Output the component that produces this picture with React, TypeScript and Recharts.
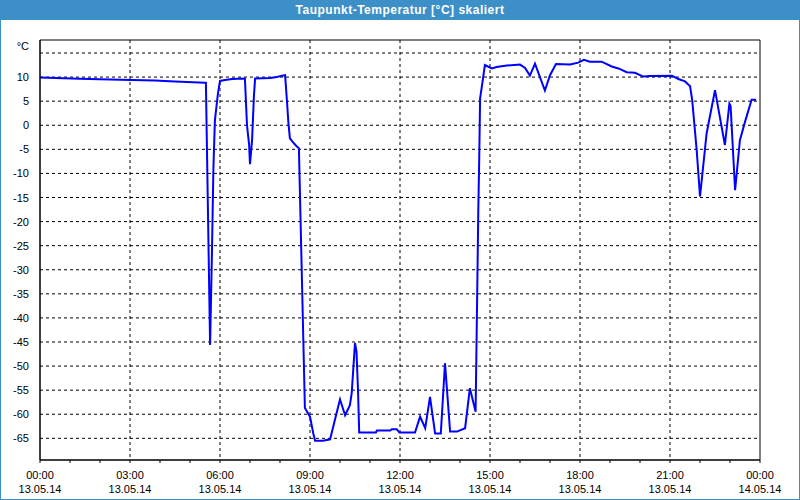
import { CartesianGrid, Line, LineChart, ReferenceArea, XAxis, YAxis } from "recharts";

// hours since 13.05.14 00:00
const hours = [
  0, 1.33, 2.67, 3.83, 4.5, 5.5, 5.53, 5.67, 5.73, 5.78, 5.83, 5.93, 6.0, 6.17, 6.4, 6.83, 6.9, 6.97, 7.0, 7.07,
  7.13, 7.17, 7.67, 7.9, 8.07, 8.17, 8.23, 8.28, 8.33, 8.43, 8.53, 8.63, 8.83, 9.0, 9.11, 9.17, 9.43, 9.67, 10.0,
  10.17, 10.33, 10.39, 10.5, 10.55, 10.6, 10.64, 11.2, 11.23, 11.67, 11.73, 11.89, 11.98, 12.5, 12.67, 12.84, 13.0,
  13.17, 13.36, 13.5, 13.67, 13.9, 14.17, 14.33, 14.52, 14.58, 14.61, 14.64, 14.67, 14.76, 14.83, 15.06, 15.22,
  15.56, 16.0, 16.17, 16.33, 16.5, 16.83, 17.0, 17.2, 17.67, 17.94, 18.13, 18.33, 18.72, 19.06, 19.28, 19.56, 19.83,
  20.11, 20.33, 21.06, 21.28, 21.5, 21.67, 21.74, 21.89, 22.0, 22.22, 22.5, 22.83, 22.98, 23.02, 23.17, 23.33, 23.5,
  23.72, 23.87
];

const dewPoint = [
  9.9, 9.65, 9.45, 9.3, 9.1, 8.8, 8.8, -45.6, -27, -9, 1, 6.5, 9.2, 9.4, 9.6, 9.7, 0, -4, -8.1, -3,
  6, 9.7, 9.8, 10.0, 10.3, 10.4, 5.2, 0.5, -2.7, -3.5, -4.2, -4.8, -58.7, -60.5, -64, -65.5, -65.5, -65.2, -56.9,
  -60.2, -58.1, -55.6, -45.2, -47, -55, -63.8, -63.8, -63.4, -63.4, -63.1, -63.1, -63.8, -63.8, -60.5, -62.9, -56.4,
  -64, -64, -49.4, -63.6, -63.6, -62.9, -54.6, -59.5, -32, -17.6, -7.2, 5.6, 9.4, 12.5, 11.8, 12.1,
  12.4, 12.6, 11.9, 10.3, 12.8, 7.2, 10.4, 12.7, 12.6, 13.0, 13.6, 13.2, 13.2, 12.2, 11.8, 11.0, 10.9,
  10.1, 10.2, 10.3, 9.6, 9.1, 8.1, 5.2, -5.2, -14.8, -1.7, 7.3, -4.1, 4.5, 4.0, -13.5, -3.1, 0.7,
  5.3, 5.3
];

const yTicks = [-65, -60, -55, -50, -45, -40, -35, -30, -25, -20, -15, -10, -5, 0, 5, 10, 15];
const xTicks = [0, 1, 2, 3, 4, 5, 6, 7, 8, 9, 10, 11, 12, 13, 14, 15, 16, 17, 18, 19, 20, 21, 22, 23, 24];
const gridHours = [3, 6, 9, 12, 15, 18, 21];
const timeLabels = ["00:00", "03:00", "06:00", "09:00", "12:00", "15:00", "18:00", "21:00", "00:00"];
const dateLabels = ["13.05.14", "13.05.14", "13.05.14", "13.05.14", "13.05.14", "13.05.14", "13.05.14", "13.05.14", "14.05.14"];

const yMin = -69.5;
const yMax = 17.7;
const font = "'Liberation Sans', Arial, sans-serif";
const frameBlue = "#3d8fc7";

const data = hours.map((h, i) => ({ h, v: dewPoint[i] }));

function TimeTick(props: any) {
  const { x, y, payload } = props;
  if (payload.value % 3 !== 0) return null;
  const idx = payload.value / 3;
  return (
    <g>
      <text x={x} y={y + 16} textAnchor="middle" fontSize={11} fontFamily={font} fill="#000">
        {timeLabels[idx]}
      </text>
      <text x={x} y={y + 30} textAnchor="middle" fontSize={11} fontFamily={font} fill="#000">
        {dateLabels[idx]}
      </text>
    </g>
  );
}

function ValueTick(props: any) {
  const { x, y, payload } = props;
  // the top tick carries the unit instead of a number
  const label = payload.value === 15 ? "°C" : String(payload.value);
  const dy = payload.value === 15 ? -3 : 4;
  return (
    <text x={x - 3} y={y + dy} textAnchor="end" fontSize={11} fontFamily={font} fill="#000">
      {label}
    </text>
  );
}

export default function App() {
  return (
    <div style={{ position: "fixed", left: 0, top: 0, width: 800, height: 500, background: frameBlue }}>
      <div
        style={{
          height: 20,
          lineHeight: "20px",
          textAlign: "center",
          color: "#fff",
          fontFamily: font,
          fontWeight: "bold",
          fontSize: 12,
          letterSpacing: 0.5
        }}
      >
        Taupunkt-Temperatur [°C] skaliert
      </div>
      <div style={{ position: "absolute", left: 1, top: 20, width: 798, height: 479, background: "#fff" }}>
        <LineChart width={798} height={479} data={data} margin={{ top: 20, right: 39, bottom: 5, left: 0 }}>
          <CartesianGrid
            stroke="#000"
            strokeDasharray="3 3"
            horizontalValues={yTicks}
            verticalValues={gridHours}
          />
          <XAxis
            dataKey="h"
            type="number"
            domain={[0, 24]}
            ticks={xTicks}
            interval={0}
            height={34}
            tickSize={3}
            tickMargin={0}
            axisLine={{ stroke: "#000" }}
            tickLine={{ stroke: "#000" }}
            tick={<TimeTick />}
          />
          <YAxis
            type="number"
            domain={[yMin, yMax]}
            ticks={yTicks}
            interval={0}
            width={39}
            tickLine={false}
            axisLine={{ stroke: "#000" }}
            tick={<ValueTick />}
          />
          <ReferenceArea x1={0} x2={24} y1={yMin} y2={yMax} fill="none" stroke="#000" strokeWidth={1} />
          <Line
            type="linear"
            dataKey="v"
            stroke="#0000ff"
            strokeWidth={2}
            dot={false}
            isAnimationActive={false}
          />
        </LineChart>
      </div>
    </div>
  );
}
